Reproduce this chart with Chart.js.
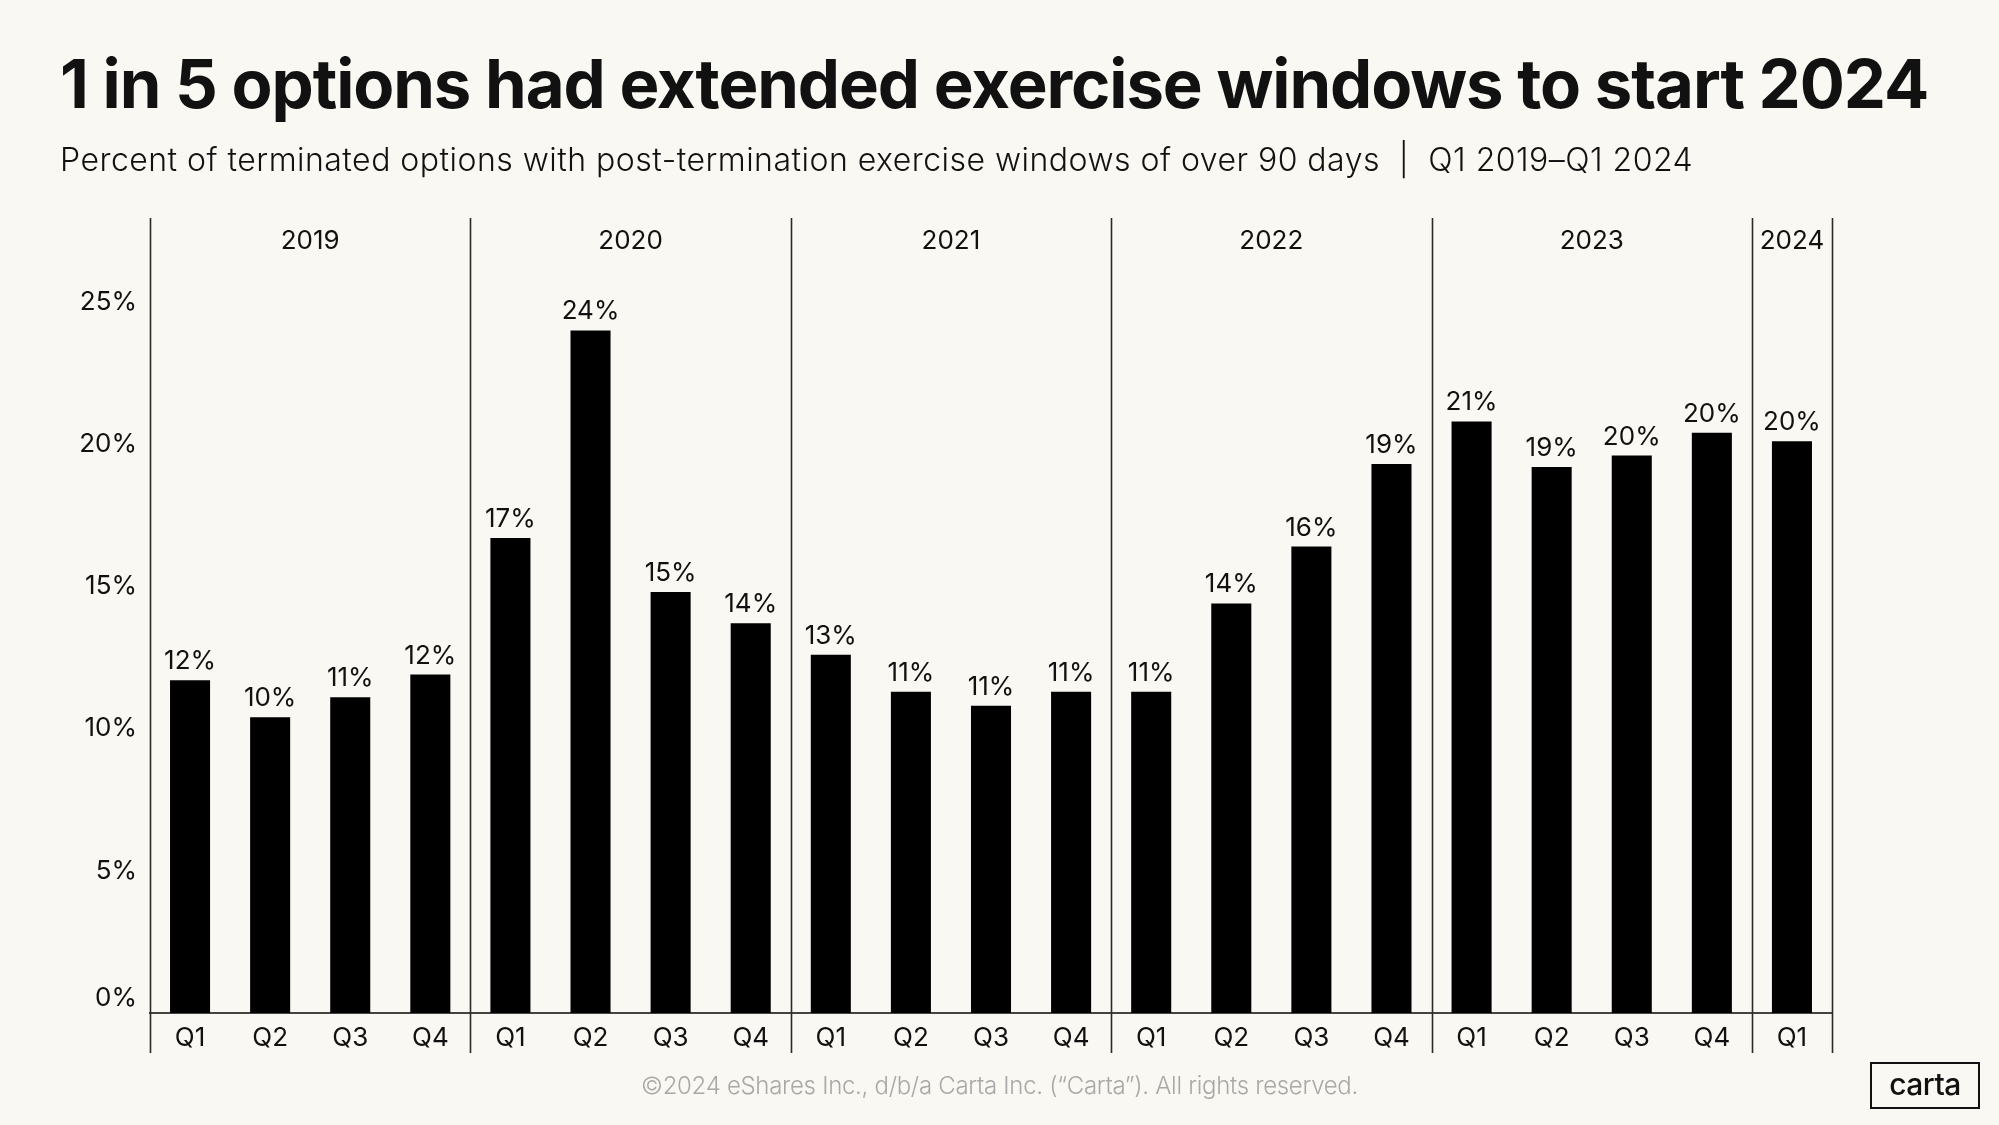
<!DOCTYPE html>
<html>
<head>
<meta charset="utf-8">
<script src="https://cdn.jsdelivr.net/npm/chart.js@4.4.1/dist/chart.umd.min.js"></script>
<style>
    html, body {
        margin: 0;
        padding: 0;
        background: #faf8f2;
        overflow: hidden;
    }
    #page {
        position: relative;
        width: 1999px;
        height: 1125px;
        font-family: Inter, "Noto Sans", sans-serif;
        color: #111;
    }
    #chart {
        position: absolute;
        left: 0;
        top: 0;
    }
    .txt {
        position: absolute;
        white-space: nowrap;
        line-height: 1;
    }
    #title {
        left: 60px;
        top: 50px;
        font-size: 67px;
        font-weight: 700;
    }
    #subtitle {
        left: 60px;
        top: 144px;
        font-size: 32px;
        font-weight: 300;
    }
    #footer {
        left: 641px;
        top: 1074px;
        font-size: 24px;
        font-weight: 300;
        color: #a8a8a8;
    }
    #logo {
        position: absolute;
        left: 1870px;
        top: 1062px;
        width: 106px;
        height: 43px;
        border: 2.5px solid #111;
        font-size: 30px;
        font-weight: 500;
        line-height: 40px;
        text-align: center;
        letter-spacing: -0.5px;
    }
</style>
</head>
<body>
<div id="page">
    <canvas id="chart" width="1999" height="1125"></canvas>
    <div id="title" class="txt">1 in 5 options had extended exercise windows to start 2024</div>
    <div id="subtitle" class="txt">Percent of terminated options with post-termination exercise windows of over 90 days&nbsp;&nbsp;|&nbsp;&nbsp;Q1 2019–Q1 2024</div>
    <div id="footer" class="txt">©2024 eShares Inc., d/b/a Carta Inc. (“Carta”). All rights reserved.</div>
    <div id="logo">carta</div>
</div>
<script>
// Données
const QUARTERS = [
    "Q1", "Q2", "Q3", "Q4",
    "Q1", "Q2", "Q3", "Q4",
    "Q1", "Q2", "Q3", "Q4",
    "Q1", "Q2", "Q3", "Q4",
    "Q1", "Q2", "Q3", "Q4",
    "Q1"
];

const YEARS = ["2019", "2020", "2021", "2022", "2023", "2024"];
const QUARTERS_PER_YEAR = [4, 4, 4, 4, 4, 1];

// Pourcentage des options avec une fenêtre d'exercice > 90 jours
const PCT_EXTENDED = [
    11.7, 10.4, 11.1, 11.9,
    16.7, 24.0, 14.8, 13.7,
    12.6, 11.3, 10.8, 11.3,
    11.3, 14.4, 16.4, 19.3,
    20.8, 19.2, 19.6, 20.4,
    20.1
];

const Y_TICKS = [0, 5, 10, 15, 20, 25];

const FONT = "Inter";
const INK = "#111111";

/**
 * Ajuste l'espacement des lettres pour qu'un texte fasse la largeur voulue
 * @param {string} id - ID de la balise HTML
 * @param {number} target - largeur cible en px
 */
function fitWidth(id, target) {
    let element = document.getElementById(id);
    let chars = element.textContent.length;
    let width = element.getBoundingClientRect().width;
    let spacing = (target - width) / chars;
    element.style.letterSpacing = spacing.toFixed(2) + "px";
}

// Lignes de séparation, années et étiquettes des barres
const yearDecorations = {
    id: 'yearDecorations',
    afterDatasetsDraw(chart) {
        const ctx = chart.ctx;
        const x = chart.scales.x;
        const y = chart.scales.y;
        const cw = (x.right - x.left) / QUARTERS.length;
        const top = 218;
        const bottom = y.bottom + 40;

        ctx.save();
        // separateurs
        ctx.strokeStyle = "#2a2a2a";
        ctx.lineWidth = 1.6;
        let start = 0;
        let edges = [0];
        for (const n of QUARTERS_PER_YEAR) {
            start += n;
            edges.push(start);
        }
        for (const e of edges) {
            let px = Math.round(x.left + e * cw) + 0.5;
            ctx.beginPath();
            ctx.moveTo(px, top);
            ctx.lineTo(px, bottom);
            ctx.stroke();
        }

        // années
        ctx.fillStyle = INK;
        ctx.font = "400 26px " + FONT;
        ctx.textAlign = "center";
        ctx.textBaseline = "alphabetic";
        for (let i = 0; i < YEARS.length; i++) {
            let mid = x.left + (edges[i] + edges[i + 1]) / 2 * cw;
            ctx.fillText(YEARS[i], mid, 249);
        }

        // valeurs au dessus des barres
        const meta = chart.getDatasetMeta(0);
        meta.data.forEach(function (bar, i) {
            ctx.fillText(Math.round(PCT_EXTENDED[i]) + "%", bar.x, bar.y - 11);
        });

        // le 0% est décalé vers le haut
        ctx.textAlign = "right";
        ctx.fillText("0%", y.right - 13, y.getPixelForValue(0) - 7);
        ctx.restore();
    }
};

function loadChart(id) {
    let ctx = document.getElementById(id).getContext('2d');
    return new Chart(ctx, {
        type: 'bar',
        data: {
            labels: QUARTERS,
            datasets: [{
                label: "Percent of terminated options",
                data: PCT_EXTENDED,
                backgroundColor: "#000000",
                borderWidth: 0,
                barPercentage: 0.5,
                categoryPercentage: 1.0
            }]
        },
        options: {
            responsive: false,
            animation: false,
            devicePixelRatio: 1,
            layout: {
                padding: {top: 302, right: 167, bottom: 0, left: 0}
            },
            plugins: {
                legend: {display: false},
                tooltip: {enabled: false}
            },
            scales: {
                x: {
                    grid: {display: false, drawTicks: false},
                    border: {display: true, color: "#444444", width: 2},
                    ticks: {
                        color: INK,
                        font: {family: FONT, size: 26, weight: 400},
                        padding: 10,
                        maxRotation: 0,
                        autoSkip: false
                    },
                    afterFit(scale) {
                        scale.height = 112;
                    }
                },
                y: {
                    min: Y_TICKS[0],
                    max: Y_TICKS[Y_TICKS.length - 1],
                    afterBuildTicks(scale) {
                        scale.ticks = Y_TICKS.map(v => ({value: v}));
                    },
                    grid: {display: false, drawTicks: false},
                    border: {display: false},
                    ticks: {
                        color: INK,
                        font: {family: FONT, size: 26, weight: 400},
                        padding: 13,
                        callback: v => v === 0 ? "" : v + "%"
                    },
                    afterFit(scale) {
                        scale.width = 150;
                    }
                }
            }
        },
        plugins: [yearDecorations]
    });
}

document.fonts.load("26px Inter").then(function () {
    fitWidth("title", 1868);
    fitWidth("subtitle", 1633);
    fitWidth("footer", 717);
    loadChart("chart");
});
</script>
</body>
</html>
